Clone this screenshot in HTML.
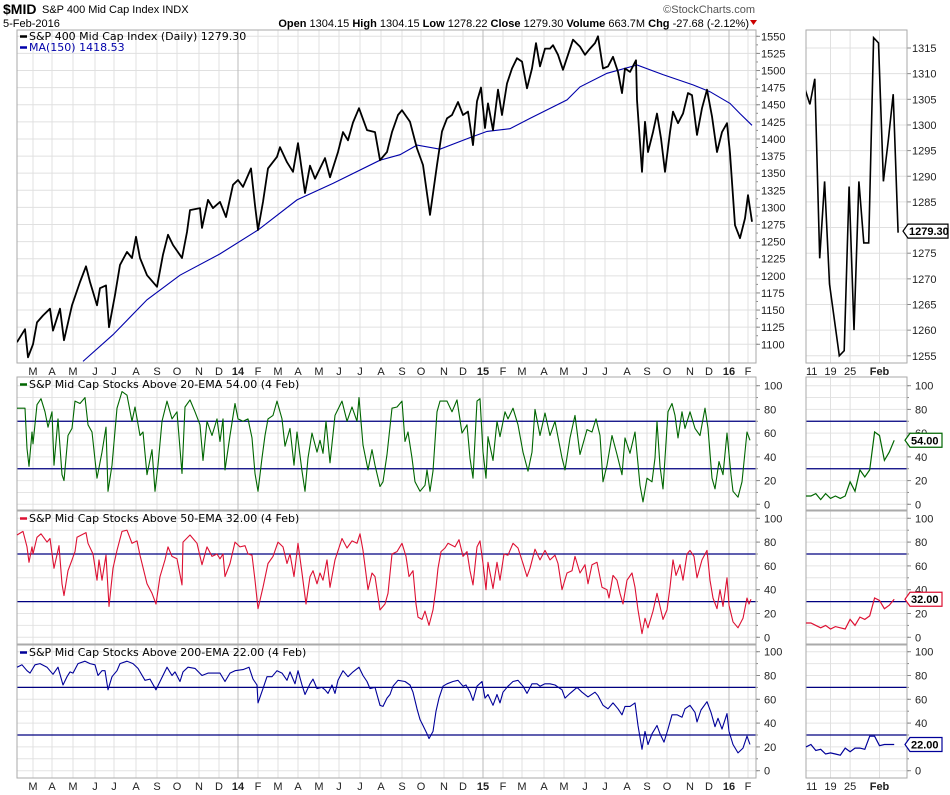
<!DOCTYPE html>
<html><head><meta charset="utf-8">
<style>
html,body{margin:0;padding:0;background:#fff;}
svg{display:block;font-family:"Liberation Sans",Arial,sans-serif;}
.lg{font-family:"DejaVu Sans","Liberation Sans",sans-serif;font-size:11px;}
.ax{font-size:11px;fill:#222;}
</style></head>
<body>
<svg id="chart" width="950" height="795" viewBox="0 0 950 795" xmlns="http://www.w3.org/2000/svg">
  <g>
    <text x="3" y="14" font-size="14" font-weight="bold">$MID</text>
    <text x="42" y="13" font-size="11">S&amp;P 400 Mid Cap Index INDX</text>
    <text x="3" y="27" font-size="11">5-Feb-2016</text>
    <text x="755" y="13" font-size="11" fill="#555" text-anchor="end">©StockCharts.com</text>
    <text x="749" y="27" font-size="11" text-anchor="end"><tspan font-weight="bold">Open</tspan> 1304.15 <tspan font-weight="bold">High</tspan> 1304.15 <tspan font-weight="bold">Low</tspan> 1278.22 <tspan font-weight="bold">Close</tspan> 1279.30 <tspan font-weight="bold">Volume</tspan> 663.7M <tspan font-weight="bold">Chg</tspan> -27.68 (-2.12%)</text>
    <path d="M750 20 L757 20 L753.5 25 Z" fill="#c00"/>
  </g>
  <g id="layer"></g>
</svg>
<script>
// ===== DATA =====
const monthLabels = ["M","A","M","J","J","A","S","O","N","D","14","F","M","A","M","J","J","A","S","O","N","D","15","F","M","A","M","J","J","A","S","O","N","D","16","F"];
const monthDays = [16,35,56,78,97,119,140,160,182,202,221,241,261,281,302,322,343,364,385,404,427,446,466,486,505,527,547,568,588,610,630,650,673,692,712,731];
const priceTicks = [1550,1525,1500,1475,1450,1425,1400,1375,1350,1325,1300,1275,1250,1225,1200,1175,1150,1125,1100];
const miniPriceTicks = [1315,1310,1305,1300,1295,1290,1285,1280,1275,1270,1265,1260,1255];
const pctTicks = [100,80,60,40,20,0];
const miniDateLabels = ["11","19","25","Feb"];
const miniDateIdx = [0,5,9,15];

const price = [[0,1103],[8,1122],[11,1081],[16,1100],[20,1132],[26,1142],[33,1152],[36,1120],[43,1152],[47,1106],[55,1157],[63,1191],[69,1214],[73,1191],[80,1157],[83,1182],[89,1186],[92,1125],[98,1172],[103,1216],[110,1235],[115,1226],[119,1257],[123,1226],[130,1201],[140,1184],[146,1231],[151,1260],[156,1245],[165,1226],[170,1264],[173,1296],[183,1299],[185,1270],[191,1311],[196,1299],[203,1308],[209,1286],[216,1333],[221,1340],[226,1330],[234,1357],[238,1303],[241,1267],[246,1308],[251,1357],[260,1374],[263,1388],[270,1366],[276,1352],[281,1394],[288,1321],[293,1361],[298,1342],[308,1372],[313,1344],[321,1381],[326,1410],[331,1398],[336,1424],[342,1445],[350,1413],[358,1410],[363,1369],[370,1381],[375,1410],[381,1435],[385,1442],[393,1425],[400,1386],[406,1362],[413,1289],[420,1362],[425,1411],[430,1430],[435,1435],[441,1454],[446,1435],[451,1440],[456,1391],[460,1455],[464,1475],[468,1416],[471,1452],[476,1413],[481,1472],[485,1435],[490,1481],[495,1503],[500,1518],[505,1513],[510,1474],[515,1503],[519,1540],[523,1506],[528,1532],[533,1532],[536,1537],[541,1523],[546,1501],[551,1523],[556,1545],[563,1535],[568,1523],[573,1532],[578,1540],[581,1550],[586,1503],[591,1506],[596,1520],[601,1498],[605,1467],[608,1503],[613,1498],[619,1515],[620,1457],[625,1352],[628,1425],[631,1381],[636,1410],[640,1437],[644,1401],[648,1352],[653,1410],[656,1440],[661,1423],[666,1437],[671,1467],[675,1464],[680,1406],[685,1445],[690,1472],[695,1433],[700,1381],[705,1410],[710,1423],[713,1379],[718,1274],[723,1255],[728,1284],[731,1318],[735,1279]];
const ma150 = [[66,1075],[96,1114],[130,1165],[163,1201],[203,1232],[241,1267],[280,1311],[316,1335],[363,1369],[383,1377],[400,1391],[423,1385],[453,1402],[470,1411],[493,1415],[513,1430],[550,1457],[563,1476],[590,1496],[620,1508],[646,1494],[676,1479],[693,1469],[713,1452],[723,1437],[735,1420]];
const ema20 = [[0,81],[8,81],[10,47],[12,32],[15,61],[16,51],[20,84],[24,89],[28,78],[31,65],[35,78],[37,33],[41,72],[45,25],[47,20],[51,58],[55,64],[58,87],[63,85],[68,90],[71,67],[75,61],[80,22],[85,44],[89,65],[91,11],[95,33],[100,81],[105,95],[110,92],[115,70],[118,82],[123,58],[126,61],[130,25],[135,46],[138,11],[141,33],[145,70],[150,87],[155,72],[160,78],[165,26],[168,82],[173,88],[178,78],[183,67],[186,37],[190,70],[195,58],[200,72],[203,53],[206,72],[208,29],[213,58],[218,85],[221,72],[226,70],[231,72],[235,56],[238,26],[241,11],[245,39],[248,58],[251,72],[256,75],[260,87],[265,72],[268,49],[273,64],[277,33],[280,61],[285,28],[288,11],[291,39],[295,60],[300,44],[303,54],[306,43],[309,70],[313,35],[318,75],[325,87],[330,70],[335,82],[340,70],[342,90],[346,50],[351,29],[355,46],[358,33],[363,15],[366,19],[370,42],[375,81],[380,82],[385,87],[388,53],[391,61],[395,39],[398,19],[403,11],[408,16],[410,29],[413,11],[416,28],[420,78],[423,87],[430,87],[435,78],[440,88],[445,60],[450,67],[453,39],[456,22],[460,87],[463,89],[466,44],[469,22],[471,57],[476,37],[480,70],[483,57],[488,78],[491,72],[496,81],[501,67],[506,44],[511,28],[515,44],[518,80],[523,58],[528,77],[533,58],[538,70],[545,39],[548,29],[553,56],[558,75],[563,42],[570,63],[575,61],[579,72],[583,58],[586,19],[590,33],[595,58],[600,42],[605,25],[608,56],[613,43],[618,61],[623,16],[626,2],[630,22],[635,19],[638,39],[640,70],[643,32],[646,13],[651,78],[655,85],[658,75],[661,56],[665,78],[668,64],[673,78],[678,64],[683,58],[688,81],[691,64],[695,22],[698,13],[702,36],[706,25],[710,60],[714,25],[716,11],[721,6],[725,19],[730,61],[733,54]];
const ema50 = [[0,86],[6,89],[10,76],[12,63],[15,76],[16,70],[20,84],[24,87],[30,80],[33,83],[37,58],[42,77],[45,45],[47,35],[51,56],[55,65],[58,72],[60,84],[69,88],[71,79],[76,70],[80,48],[82,65],[85,48],[89,69],[92,26],[96,58],[100,73],[105,89],[110,90],[115,79],[120,81],[123,69],[130,45],[135,37],[139,28],[143,51],[148,65],[151,76],[155,68],[160,66],[165,44],[166,80],[173,86],[180,79],[185,61],[190,76],[195,68],[200,70],[203,66],[206,70],[208,51],[213,62],[218,80],[223,76],[228,77],[231,70],[235,69],[238,48],[241,24],[246,42],[251,62],[256,68],[261,80],[266,76],[270,62],[273,70],[277,51],[281,79],[285,54],[289,28],[293,51],[296,56],[300,45],[303,54],[306,48],[310,65],[313,42],[318,65],[325,83],[330,75],[335,81],[340,79],[343,87],[346,73],[351,40],[355,54],[358,51],[363,23],[368,28],[371,37],[375,70],[380,72],[385,79],[389,68],[392,51],[396,56],[399,28],[401,17],[405,15],[408,22],[412,10],[416,23],[419,42],[421,58],[424,72],[428,75],[431,79],[438,76],[442,82],[446,68],[450,72],[453,56],[456,44],[460,76],[463,81],[466,62],[469,40],[471,63],[476,41],[480,63],[483,48],[487,70],[491,69],[496,79],[501,75],[506,62],[510,51],[513,58],[518,74],[523,65],[528,73],[533,65],[538,69],[541,62],[545,40],[550,54],[555,56],[558,68],[563,54],[568,61],[571,45],[575,61],[580,63],[585,42],[590,40],[592,33],[596,52],[600,48],[603,37],[606,28],[610,48],[615,54],[618,42],[621,23],[625,3],[628,16],[631,8],[636,22],[640,37],[643,26],[646,15],[650,23],[653,42],[656,65],[659,52],[663,61],[666,48],[670,70],[673,73],[677,68],[680,50],[685,65],[690,73],[693,48],[696,33],[700,24],[703,40],[706,26],[710,50],[712,27],[716,13],[721,8],[726,16],[730,33],[732,28],[734,32]];
const ema200 = [[0,87],[5,89],[10,84],[13,82],[18,89],[23,90],[30,87],[36,81],[41,87],[46,72],[50,79],[53,83],[56,82],[61,90],[68,92],[73,90],[78,89],[81,80],[85,84],[88,84],[91,68],[95,79],[100,84],[103,90],[110,92],[116,90],[121,86],[128,76],[133,77],[139,68],[143,75],[150,87],[155,80],[158,83],[163,75],[166,83],[171,87],[178,86],[185,80],[191,82],[198,82],[203,82],[208,75],[213,82],[218,84],[226,85],[232,87],[236,77],[240,72],[241,57],[246,69],[250,79],[255,79],[260,84],[265,82],[270,76],[273,83],[278,73],[281,84],[285,72],[288,64],[293,73],[296,77],[300,69],[305,70],[308,68],[311,65],[315,72],[318,65],[321,76],[326,84],[331,79],[336,83],[342,87],[346,80],[350,75],[353,69],[358,70],[363,55],[366,54],[370,61],[373,64],[376,71],[381,76],[388,75],[393,72],[396,66],[400,52],[403,43],[406,38],[410,31],[412,27],[416,33],[419,50],[422,61],[426,71],[430,73],[436,75],[441,76],[446,71],[449,72],[453,66],[456,59],[460,71],[465,75],[468,61],[471,64],[476,55],[480,64],[483,57],[486,66],[491,71],[496,75],[501,76],[506,71],[510,65],[515,73],[520,73],[523,71],[528,73],[533,73],[538,72],[545,68],[548,61],[553,65],[560,70],[565,66],[571,62],[578,66],[581,63],[586,55],[591,52],[596,57],[601,52],[605,47],[608,54],[613,54],[618,57],[621,38],[625,18],[628,33],[631,22],[635,31],[640,38],[643,31],[647,24],[651,35],[655,47],[660,47],[665,45],[668,52],[673,55],[678,49],[680,41],[684,51],[690,58],[694,49],[698,37],[701,44],[705,35],[710,48],[712,33],[716,22],[721,15],[726,19],[730,29],[733,22]];
const miniPrice = [1307,1304,1309,1274,1289,1269,1262,1255,1256,1288,1260,1289,1277,1277,1317,1316,1289,1297,1306,1279];
const miniEma20 = [7,7,9,4,9,5,7,5,7,19,11,29,23,29,61,58,37,44,54];
const miniEma50 = [12,12,10,8,10,7,9,8,7,15,10,17,15,18,33,31,24,27,32];
const miniEma200 = [20,22,17,18,14,15,14,13,19,16,19,19,18,29,29,21,22,22,22];

// ===== LAYOUT =====
const NS = "http://www.w3.org/2000/svg";
const layer = document.getElementById('layer');
const L = 17, R = 756, ML = 806, MR = 907;
const xOf = d => L + d;
const miniX = i => ML + i * 4.9;
const yPrice = v => 36.3 + (1550 - v) * 0.6844;
const yMiniPrice = v => 48 + (1315 - v) * 5.13;
const panels = [
  {top:377, bot:510, y0:504.3, k:1.186},
  {top:511, bot:644, y0:637.3, k:1.19},
  {top:645, bot:778, y0:770.7, k:1.19}
];
const yPct = (p, v) => p.y0 - v * p.k;

function mk(tag, attrs, parent) {
  const e = document.createElementNS(NS, tag);
  for (const k in attrs) e.setAttribute(k, attrs[k]);
  (parent || layer).appendChild(e);
  return e;
}
function line(x1,y1,x2,y2,stroke,w,parent){return mk('line',{x1,y1,x2,y2,stroke,'stroke-width':w},parent);}
function txt(x,y,s,attrs,parent){const t=mk('text',Object.assign({x,y},attrs),parent);t.textContent=s;return t;}

const defs = mk('defs',{});
[[L,30,R-L,334,'clipPrice'],[ML,30,MR-ML,334,'clipMini']].forEach(c=>{
  const cp = mk('clipPath',{id:c[4]},defs); mk('rect',{x:c[0],y:c[1],width:c[2],height:c[3]},cp);
});

// ----- price panel -----
const gP = mk('g',{});


priceTicks.forEach(v=>{
  const y = yPrice(v);
  line(L,y,R,y,'#e0e0e0',1,gP);
  line(R,y,R+4,y,'#888',1,gP);
  const t = txt(R+5,y+4,String(v),{class:'ax'},gP);
  
  
});
for (let v=1550; v>=1100; v-=12.5) line(R,yPrice(v),R+2,yPrice(v),'#888',1,gP);
monthDays.forEach((d,i)=>{
  const yr = monthLabels[i].length===2;
  line(xOf(d),30,xOf(d),363,yr?'#bbb':'#e0e0e0',1,gP);
});
mk('rect',{x:L,y:30,width:R-L,height:333,fill:'none',stroke:'#aaa'},gP);
miniPriceTicks.forEach(v=>{
  const y = yMiniPrice(v);
  line(ML,y,MR,y,'#e0e0e0',1,gP);
  line(MR,y,MR+4,y,'#888',1,gP);
  const t = txt(MR+5,y+4,String(v),{class:'ax'},gP);
  
  
});
miniDateIdx.forEach(i=>line(miniX(i),30,miniX(i),363,'#e0e0e0',1,gP));
mk('rect',{x:ML,y:30,width:MR-ML,height:333,fill:'none',stroke:'#aaa'},gP);

const maPath = mk('path',{d:ma150.map((p,i)=>(i?'L':'M')+xOf(p[0]).toFixed(1)+' '+yPrice(p[1]).toFixed(1)).join(''),fill:'none',stroke:'#0000aa','stroke-width':1.1,'clip-path':'url(#clipPrice)'},gP);


const prPath = mk('path',{d:price.map((p,i)=>(i?'L':'M')+xOf(p[0]).toFixed(1)+' '+yPrice(p[1]).toFixed(1)).join(''),fill:'none',stroke:'#000','stroke-width':1.8,'stroke-linejoin':'round','clip-path':'url(#clipPrice)'},gP);


const mpPath = mk('path',{d:miniPrice.map((v,i)=>(i?'L':'M')+(miniX(i)-1).toFixed(1)+' '+yMiniPrice(v).toFixed(1)).join(''),fill:'none',stroke:'#000','stroke-width':1.6,'clip-path':'url(#clipMini)'},gP);



const lg1 = txt(29,40,'S&P 400 Mid Cap Index (Daily) 1279.30',{class:'lg'},gP);


line(20,36.5,27,36.5,'#000',2.5,gP);
const lg2 = txt(29,51,'MA(150) 1418.53',{class:'lg',fill:'#0000aa','font-size':'10'},gP);


line(20,47.5,27,47.5,'#0000aa',2.5,gP);

function tag(xL, yC, label, color, w, nm) {
  const g = mk('g',{});
  
  
  mk('path',{d:`M${xL} ${yC} L${xL+5} ${yC-7} L${xL+5+w} ${yC-7} L${xL+5+w} ${yC+7} L${xL+5} ${yC+7} Z`,fill:'#fff',stroke:color,'stroke-width':1.2},g);
  txt(xL+6,yC+4,label,{'font-size':'11','font-weight':'bold',fill:'#000'},g);
}
tag(903, yMiniPrice(1279.3), '1279.30', '#000', 40, 'price-value-tag');

function monthRow(y, nm) {
  monthDays.forEach((d,i)=>{
    const yr = monthLabels[i].length===2;
    const t = txt(xOf(d),y,monthLabels[i],{class:'ax','text-anchor':'middle','font-weight':yr?'bold':'normal','font-size':yr?'12':'11'});
    
    
  });
  miniDateLabels.forEach((s,i)=>{
    const t = txt(miniX(miniDateIdx[i]),y,s,{class:'ax','text-anchor':i===0?'start':'middle','font-weight':i===3?'bold':'normal','font-size':i===3?'12':'11'});
    
    
  });
}
monthRow(375,'month-label-top');
monthRow(790,'month-label-bottom');

const series = [ema20, ema50, ema200];
const miniSeries = [miniEma20, miniEma50, miniEma200];
const colors = ['#006600','#dd1133','#000099'];
const legends = ['S&P Mid Cap Stocks Above 20-EMA 54.00 (4 Feb)','S&P Mid Cap Stocks Above 50-EMA 32.00 (4 Feb)','S&P Mid Cap Stocks Above 200-EMA 22.00 (4 Feb)'];
const tagLabels = ['54.00','32.00','22.00'];
const names = ['ema20','ema50','ema200'];
panels.forEach((p,pi)=>{
  const g = mk('g',{});
  
  
  for (let v=0; v<=100; v+=10) {
    const y = yPct(p,v);
    if (y < p.top || y > p.bot) continue;
    line(L,y,R,y,'#e4e4e4',1,g);
    line(ML,y,MR,y,'#e4e4e4',1,g);
    line(R,y,R+2,y,'#888',1,g);
    line(MR,y,MR+2,y,'#888',1,g);
  }
  pctTicks.forEach(v=>{
    const y = yPct(p,v);
    line(R,y,R+4,y,'#888',1,g);
    line(MR,y,MR+4,y,'#888',1,g);
    const t = txt(R+8,y+4,String(v),{class:'ax'},g);
    
    
    const t2 = txt(MR+8,y+4,String(v),{class:'ax'},g);
    
    
  });
  monthDays.forEach((d,i)=>{
    const yr = monthLabels[i].length===2;
    line(xOf(d),p.top,xOf(d),p.bot,yr?'#bbb':'#e0e0e0',1,g);
  });
  miniDateIdx.forEach(i=>line(miniX(i),p.top,miniX(i),p.bot,'#e0e0e0',1,g));
  [70,30].forEach(v=>{
    const y = yPct(p,v);
    const a = line(L,y,R,y,'#000080',1.3,g);
    
    
    line(ML,y,MR,y,'#000080',1.3,g);
  });
  mk('rect',{x:L,y:p.top,width:R-L,height:p.bot-p.top,fill:'none',stroke:'#aaa'},g);
  mk('rect',{x:ML,y:p.top,width:MR-ML,height:p.bot-p.top,fill:'none',stroke:'#aaa'},g);
  const path = mk('path',{d:series[pi].map((q,i)=>(i?'L':'M')+xOf(q[0]).toFixed(1)+' '+yPct(p,q[1]).toFixed(1)).join(''),fill:'none',stroke:colors[pi],'stroke-width':1.1,'stroke-linejoin':'round'},g);
  
  
  const mp = mk('path',{d:miniSeries[pi].map((v,i)=>(i?'L':'M')+miniX(i).toFixed(1)+' '+yPct(p,v).toFixed(1)).join(''),fill:'none',stroke:colors[pi],'stroke-width':1.2},g);
  
  
  const lt = txt(29,p.top+11,legends[pi],{class:'lg'},g);
  
  
  line(20,p.top+7.5,27,p.top+7.5,colors[pi],2.5,g);
  const last = miniSeries[pi][miniSeries[pi].length-1];
  tag(905, yPct(p,last), tagLabels[pi], colors[pi], 32, names[pi]+'-value-tag');
});
</script>
</body></html>
